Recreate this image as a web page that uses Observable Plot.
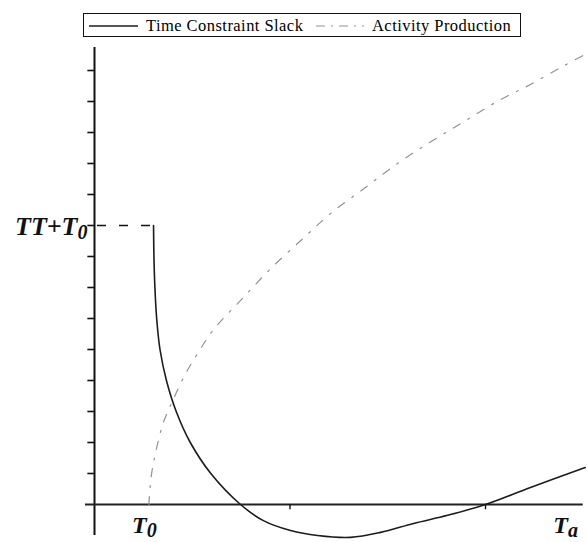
<!DOCTYPE html>
<html>
<head>
<meta charset="utf-8">
<script src="https://cdn.jsdelivr.net/npm/d3@7"></script>
<script src="https://cdn.jsdelivr.net/npm/@observablehq/plot@0.6"></script>
<style>
  body { margin: 0; background: #fff; }
  #wrap { width: 587px; height: 542px; overflow: hidden; position: relative; }
  #legend { position: relative; width: 587px; height: 44px; font-family: "Liberation Serif", "Times New Roman", serif; font-size: 16.5px; color: #000; }
  #legend .box { position: absolute; left: 83px; top: 13px; width: 436px; height: 22px; border: 1.5px solid #111; }
  #legend .item { position: absolute; top: 0; height: 22px; line-height: 23px; white-space: nowrap; letter-spacing: 0.45px; }
  #legend svg { position: absolute; top: 0; }
</style>
</head>
<body>
<div id="wrap">
  <div id="legend"></div>
  <div id="chart"></div>
</div>
<script>
// ---- data ----
const seriesNames = ["Time Constraint Slack", "Activity Production"];

// Time Constraint Slack curve
const slackX = [0.302, 0.304, 0.309, 0.318, 0.335, 0.368, 0.418, 0.49, 0.595, 0.747, 0.864, 1.003, 1.141, 1.31, 1.463, 1.632, 1.806, 2.0, 2.23, 2.51];
const slackY = [9.0, 8.0, 7.0, 6.0, 5.0, 4.0, 3.0, 2.0, 1.0, 0, -0.52, -0.84, -1.0, -1.06, -0.9, -0.61, -0.35, 0, 0.55, 1.19];

// Activity Production curve
const actX = [0.278, 0.29, 0.31, 0.35, 0.40, 0.46, 0.53, 0.61, 0.75, 0.90, 1.07, 1.21, 1.38, 1.55, 1.72, 1.89, 2.06, 2.23, 2.40, 2.52];
const actY = [0, 0.9, 1.6, 2.6, 3.35, 4.15, 4.9, 5.65, 6.6, 7.6, 8.6, 9.4, 10.2, 11.0, 11.7, 12.35, 13.0, 13.55, 14.15, 14.55];

// axes
const T0 = 0.3;          // start time on the x axis
const TTplusT0 = 9;      // level of TT+T0 on the y axis
const yTicks = [1, 2, 3, 4, 5, 6, 7, 8, 9, 10, 11, 12, 13, 14];
const xTicks = [1, 2];
const yAxisExtent = [-1.0, 14.74];
const xAxisExtent = [-0.046, 2.50];
const yLabelValues = [9];
const yLabelTexts = ["TT+T_0"];
const xLabelValues = [0.255, 2.41];
const xLabelTexts = ["T_0", "T_a"];

// ---- build ----
const slack = slackX.map((x, i) => ({x, y: slackY[i]}));
const act = actX.map((x, i) => ({x, y: actY[i]}));
const yLabels = yLabelValues.map((v, i) => ({y: v, text: yLabelTexts[i]}));
const xLabels = xLabelValues.map((v, i) => ({x: v, text: xLabelTexts[i]}));

const slackColor = "#1c1c1c";
const actColor = "#929292";
const actDash = "8,9,2,9";

// legend
const legend = document.getElementById("legend");
legend.innerHTML = `
  <div class="box">
    <svg width="60" height="22" style="left:3px"><line x1="2" x2="51" y1="12" y2="12" stroke="${slackColor}" stroke-width="1.3"/></svg>
    <div class="item" style="left:62px">${seriesNames[0]}</div>
    <svg width="60" height="22" style="left:230px"><line x1="2" x2="50" y1="12" y2="12" stroke="${actColor}" stroke-width="1.2" stroke-dasharray="9,6,2,6"/></svg>
    <div class="item" style="left:288px">${seriesNames[1]}</div>
  </div>`;

const off = 44; // legend height above svg
const chart = Plot.plot({
  width: 587,
  height: 542 - off,
  x: {domain: [0, 2], range: [94, 485], axis: null},
  y: {domain: [0, 9], range: [504 - off, 225 - off], axis: null},
  style: {background: "white", overflow: "visible"},
  marks: [
    // y axis line
    Plot.ruleX([0], {y1: yAxisExtent[0], y2: yAxisExtent[1], stroke: "#111", strokeWidth: 2}),
    // x axis line
    Plot.ruleY([0], {x1: xAxisExtent[0], x2: xAxisExtent[1], stroke: "#222", strokeWidth: 1.8}),
    // y ticks
    Plot.ruleY(yTicks, {x1: -0.034, x2: 0, stroke: "#111", strokeWidth: 1.6}),
    // x ticks
    Plot.ruleX(xTicks, {y1: 0, y2: -0.17, stroke: "#111", strokeWidth: 1.4}),
    // dashed guide to TT+T0
    Plot.ruleY([TTplusT0], {x1: 0, x2: T0, stroke: "#111", strokeWidth: 1.6, strokeDasharray: "9,13", strokeDashoffset: -3}),
    // activity production
    Plot.line(act, {x: "x", y: "y", stroke: actColor, strokeWidth: 1.2, strokeDasharray: actDash, curve: "catmull-rom"}),
    // slack
    Plot.line(slack, {x: "x", y: "y", stroke: slackColor, strokeWidth: 1.6, curve: "catmull-rom"}),
    // labels
    Plot.text(yLabels, {x: 0, y: "y", text: "text", textAnchor: "end", dx: -7, dy: 1, fontSize: 26, fontStyle: "italic", fontWeight: "bold", fontFamily: "Liberation Serif", fill: "#111"}),
    Plot.text(xLabels, {x: "x", y: 0, text: "text", textAnchor: "middle", dy: 21, fontSize: 24, fontStyle: "italic", fontWeight: "bold", fontFamily: "Liberation Serif", fill: "#111"})
  ]
});
document.getElementById("chart").appendChild(chart);

// subscripts: "T_0" -> T with lowered 0
chart.querySelectorAll("text").forEach(t => {
  const s = t.textContent;
  if (!s.includes("_")) return;
  const [a, b] = s.split("_");
  t.textContent = "";
  t.appendChild(document.createTextNode(a));
  const ts = document.createElementNS("http://www.w3.org/2000/svg", "tspan");
  ts.setAttribute("font-size", "20");
  ts.setAttribute("dy", "4");
  ts.textContent = b;
  t.appendChild(ts);
});
</script>
</body>
</html>
